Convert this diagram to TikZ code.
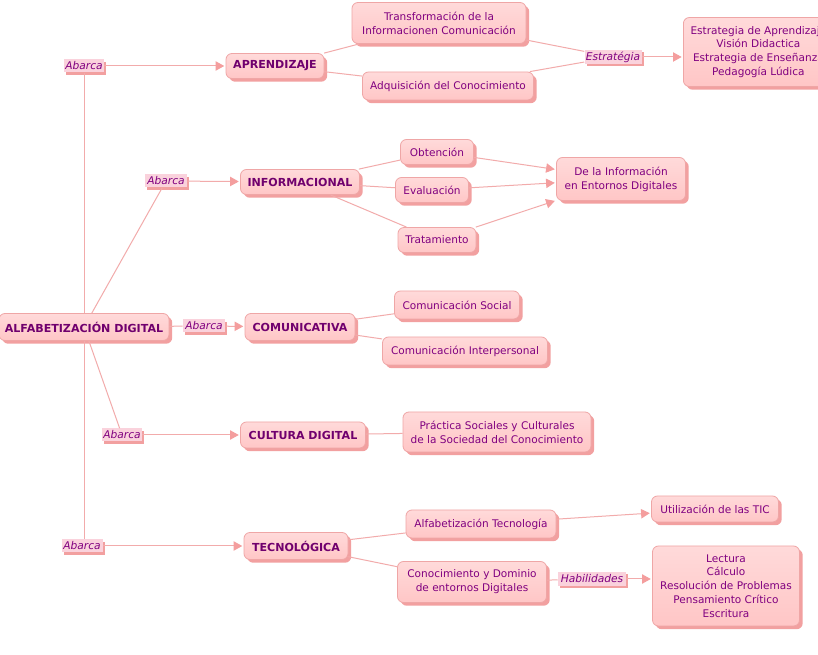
\documentclass[tikz,border=0pt]{standalone}
\usepackage{fontspec}
\setmainfont{DejaVu Sans}
\usetikzlibrary{arrows.meta}
\definecolor{txt}{HTML}{800080}
\definecolor{btxt}{HTML}{70006E}
\definecolor{ln}{HTML}{F2ABAB}
\definecolor{arr}{HTML}{F49E9E}
\definecolor{bx}{HTML}{EFA6A6}
\definecolor{shd}{HTML}{F2A0A0}
\definecolor{ftop}{HTML}{FFDADA}
\definecolor{fbot}{HTML}{FFC6C6}
\definecolor{labfill}{HTML}{FAD2DC}
\tikzset{
  wh/.style 2 args={minimum width=#1*0.75pt, minimum height=#2*0.75pt},
  box/.style={draw=bx, line width=0.6pt, rounded corners=4.5pt,
    top color=ftop, bottom color=fbot, text=txt, align=center,
    inner sep=0pt, font=\fontsize{7.9}{10.4}\selectfont,
    preaction={fill=shd, transform canvas={xshift=2.4pt, yshift=-2.4pt}}},
  boldbox/.style={box, text=btxt, font=\fontsize{8.3}{10.4}\selectfont\bfseries},
  lab/.style={fill=labfill, text=txt, inner sep=0pt,
    font=\fontsize{8}{10}\selectfont\itshape,
    preaction={fill=shd, transform canvas={xshift=1.8pt, yshift=-1.8pt}}},
  con/.style={draw=ln, line width=0.75pt},
  arrowcon/.style={con, shorten >=1pt, -{Triangle[length=6.5pt,width=7pt,color=arr]}}
}
\begin{document}
\begin{tikzpicture}[x=0.75pt,y=-0.75pt]
\clip (0,0) rectangle (818,655);
\fill[white] (0,0) rectangle (818,655);

% nodes
\node[lab, wh={40}{13}] (a1) at (84,66) {Abarca};
\node[boldbox, wh={98}{25}] (aprend) at (275,66) {APRENDIZAJE};
\node[box, wh={174}{41}] (transf) at (439,23) {Transformación de la\\Informacionen Comunicación};
\node[box, wh={171}{28}] (adqui) at (448,86) {Adquisición del Conocimiento};
\node[lab, wh={57}{14}] (estr) at (613,57) {Estratégia};
\node[box, wh={150}{69}, anchor=west, inner xsep=5pt] (estbox) at (683,52) {Estrategia de Aprendizaje\\Visión Didactica\\Estrategia de Enseñanza\\Pedagogía Lúdica};

\node[lab, wh={42}{13}] (a2) at (166,181) {Abarca};
\node[boldbox, wh={119}{25}] (info) at (300,182) {INFORMACIONAL};
\node[box, wh={73}{25}] (obt) at (437,152) {Obtención};
\node[box, wh={73}{25}] (eval) at (432,190) {Evaluación};
\node[box, wh={78}{25}] (trat) at (437,240) {Tratamiento};
\node[box, wh={129}{43}] (dela) at (621,179) {De la Información\\en Entornos Digitales};

\node[boldbox, wh={170}{27}] (alf) at (84,327) {ALFABETIZACIÓN DIGITAL};
\node[lab, wh={42}{13}] (a3) at (204,326) {Abarca};
\node[boldbox, wh={110}{27}] (comu) at (300,327) {COMUNICATIVA};
\node[box, wh={125}{28}] (csoc) at (457,305) {Comunicación Social};
\node[box, wh={165}{28}] (cint) at (465,351) {Comunicación Interpersonal};

\node[lab, wh={40}{13}] (a4) at (122,435) {Abarca};
\node[boldbox, wh={125}{26}] (cult) at (303,435) {CULTURA DIGITAL};
\node[box, wh={188}{40}] (prac) at (497,432) {Práctica Sociales y Culturales\\de la Sociedad del Conocimiento};

\node[lab, wh={41}{13}] (a5) at (82,546) {Abarca};
\node[boldbox, wh={104}{27}] (tecn) at (296,546) {TECNOLÓGICA};
\node[box, wh={150}{28}] (atec) at (481,524) {Alfabetización Tecnología};
\node[box, wh={127}{26}] (util) at (715,509) {Utilización de las TIC};
\node[box, wh={149}{41}] (cono) at (472,582) {Conocimiento y Dominio\\de entornos Digitales};
\node[lab, wh={68}{14}] (habi) at (592,579) {Habilidades};
\node[box, wh={147}{80}] (lect) at (726,586) {Lectura\\Cálculo\\Resolución de Problemas\\Pensamiento Crítico\\Escritura};

% connectors
\draw[con] (a1) -- (a1 |- alf.north);
\draw[con] (a1 |- alf.south) -- (a1 |- a5.north);
\draw[con] (alf) -- (a2);
\draw[con] (alf) -- (a3);
\draw[con] (alf) -- (a4);

\draw[arrowcon] (a1) -- (aprend);
\draw[arrowcon] (a2) -- (info);
\draw[arrowcon] (a3) -- (comu);
\draw[arrowcon] (a4) -- (cult);
\draw[arrowcon] (a5) -- (tecn);

\draw[con] (aprend) -- (transf);
\draw[con] (aprend) -- (adqui);
\draw[con] (transf) -- (estr);
\draw[con] (adqui) -- (estr);
\draw[arrowcon] (estr) -- (estr -| estbox.west);

\draw[con] (info) -- (obt);
\draw[con] (info) -- (eval);
\draw[con] (info) -- (trat);
\draw[arrowcon] (obt) -- (dela);
\draw[arrowcon] (eval) -- (dela);
\draw[arrowcon] (trat) -- (dela);

\draw[con] (comu) -- (csoc);
\draw[con] (comu) -- (cint);
\draw[con] (cult) -- (prac);

\draw[con] (tecn) -- (atec);
\draw[con] (tecn) -- (cono);
\draw[arrowcon] (atec) -- (util);
\draw[con] (cono) -- (habi);
\draw[arrowcon] (habi) -- (habi -| lect.west);
\end{tikzpicture}
\end{document}
